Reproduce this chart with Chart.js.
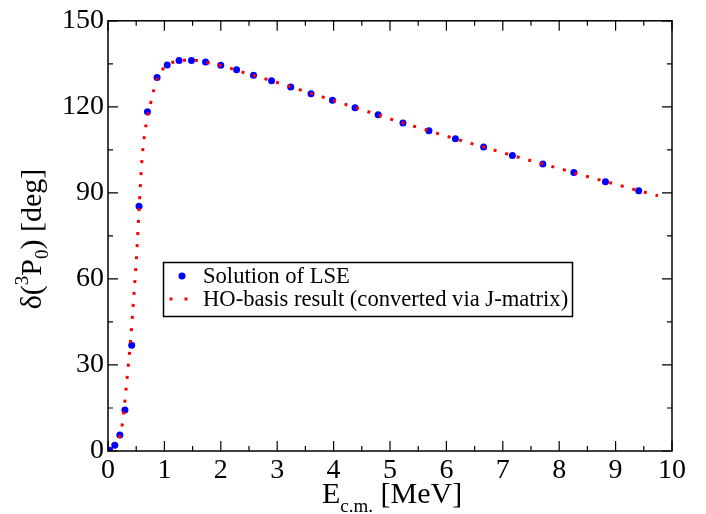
<!DOCTYPE html>
<html>
<head>
<meta charset="utf-8">
<script src="https://cdn.jsdelivr.net/npm/chart.js@4.4.1/dist/chart.umd.min.js"></script>
<style>
  html, body { margin: 0; padding: 0; background: #fff; }
  #wrap { width: 706px; height: 514px; }
</style>
</head>
<body>
<div id="wrap"><canvas id="chart" width="706" height="514"></canvas></div>
<script>
// LSE solution (blue dots)
const lseE = [0.03, 0.12, 0.21, 0.30, 0.42, 0.55, 0.70, 0.87, 1.05, 1.26, 1.48, 1.73, 2.00, 2.28, 2.58,
  2.90, 3.24, 3.60, 3.98, 4.38, 4.79, 5.23, 5.69, 6.16, 6.66, 7.17, 7.71, 8.26, 8.82, 9.41];
const lseDelta = [0.3, 2.0, 5.6, 14.3, 36.9, 85.3, 118.3, 130.2, 134.6, 136.2, 136.2, 135.6, 134.5, 132.9, 131.0,
  129.1, 126.9, 124.6, 122.3, 119.7, 117.2, 114.4, 111.7, 108.9, 106.0, 103.0, 100.1, 97.1, 93.9, 90.7];

// HO-basis result via J-matrix (red dotted line)
const hoE = [0.2, 0.24, 0.28, 0.32, 0.36, 0.4, 0.45, 0.5, 0.55, 0.6, 0.65, 0.7, 0.75, 0.8, 0.85, 0.9, 1.0, 1.1,
  1.25, 1.5, 1.75, 2.0, 2.5, 3.0, 3.5, 4.0, 4.5, 5.0, 5.5, 6.0, 6.5, 7.0, 7.5, 8.0, 8.5, 9.0, 9.5, 9.75];
const hoDelta = [4.5, 7.6, 14.0, 21.5, 30.0, 38.5, 52, 66, 84, 101, 110.5, 116.5, 120.8, 125.0, 128.6, 131.0, 133.8, 135.1,
  136.1, 136.3, 135.5, 134.4, 131.4, 128.5, 125.3, 122.2, 119.0, 115.8, 112.8, 109.8, 106.9, 104.0, 101.2, 98.5, 95.7, 93.0, 90.3, 89.0];

const xTicks = [0, 1, 2, 3, 4, 5, 6, 7, 8, 9, 10];
const yTicks = [0, 30, 60, 90, 120, 150];

const legendLabels = ['Solution of LSE', 'HO-basis result (converted via J-matrix)'];

const serif = "'Liberation Serif', 'DejaVu Serif', serif";

function drawParts(ctx, parts, x, y) {
  // parts: [text, size, baselineShift]
  let cx = x;
  for (const [t, size, dy] of parts) {
    ctx.font = size + 'px ' + serif;
    ctx.fillText(t, cx, y + dy);
    cx += ctx.measureText(t).width;
  }
  return cx - x;
}
function partsWidth(ctx, parts) {
  let w = 0;
  for (const [t, size] of parts) {
    ctx.font = size + 'px ' + serif;
    w += ctx.measureText(t).width;
  }
  return w;
}

const framePlugin = {
  id: 'frame',
  afterDraw(chart) {
    const { ctx, chartArea: a, scales } = chart;
    const xs = scales.x, ys = scales.y;
    ctx.save();
    ctx.strokeStyle = '#000';
    ctx.lineWidth = 1.5;
    ctx.strokeRect(a.left, a.top, a.right - a.left, a.bottom - a.top);

    // inward ticks on all four sides
    ctx.lineWidth = 1.2;
    ctx.beginPath();
    for (let v = 0; v <= 10.001; v += 0.5) {
      const px = xs.getPixelForValue(v);
      const len = Math.abs(v - Math.round(v)) < 0.01 ? 10 : 5;
      ctx.moveTo(px, a.bottom); ctx.lineTo(px, a.bottom - len);
      ctx.moveTo(px, a.top); ctx.lineTo(px, a.top + len);
    }
    for (let v = 0; v <= 150.001; v += 15) {
      const py = ys.getPixelForValue(v);
      const len = v % 30 === 0 ? 10 : 5;
      ctx.moveTo(a.left, py); ctx.lineTo(a.left + len, py);
      ctx.moveTo(a.right, py); ctx.lineTo(a.right - len, py);
    }
    ctx.stroke();

    ctx.fillStyle = '#000';
    ctx.textBaseline = 'alphabetic';
    ctx.textAlign = 'left';

    // x title: E_c.m. [MeV]
    const xParts = [['E', 30, 0], ['c.m.', 19, 9], [' [MeV]', 30, 0]];
    const xw = partsWidth(ctx, xParts);
    drawParts(ctx, xParts, 322, 503);

    // y title: δ(³P₀) [deg]
    const yParts = [['δ(', 30, 0], ['3', 19, -13], ['P', 30, 0], ['0', 19, 7], [') [deg]', 30, 0]];
    const yw = partsWidth(ctx, yParts);
    ctx.save();
    ctx.translate(41, 239);
    ctx.rotate(-Math.PI / 2);
    drawParts(ctx, yParts, -yw / 2, 0);
    ctx.restore();

    // legend
    ctx.lineWidth = 1.5;
    ctx.strokeRect(163.5, 262.5, 409, 54);
    ctx.fillStyle = '#0000ff';
    ctx.beginPath();
    ctx.arc(182, 276, 3.5, 0, Math.PI * 2);
    ctx.fill();
    ctx.fillStyle = '#ff0000';
    ctx.fillRect(169.5, 297.5, 3, 3);
    ctx.fillRect(184.5, 297.5, 3, 3);
    ctx.fillStyle = '#000';
    ctx.font = '22.6px ' + serif;
    ctx.fillText(legendLabels[0], 203, 283);
    ctx.fillText(legendLabels[1], 203, 306);
    ctx.restore();
  }
};

new Chart(document.getElementById('chart'), {
  type: 'scatter',
  data: {
    datasets: [
      {
        label: legendLabels[1],
        type: 'line',
        data: hoE.map((e, i) => ({ x: e, y: hoDelta[i] })),
        borderColor: '#ff0000',
        borderWidth: 3,
        borderDash: [3, 9],
        borderCapStyle: 'butt',
        pointRadius: 0,
        fill: false,
        cubicInterpolationMode: 'monotone'
      },
      {
        label: legendLabels[0],
        data: lseE.map((e, i) => ({ x: e, y: lseDelta[i] })),
        backgroundColor: '#0000ff',
        borderColor: '#0000ff',
        pointRadius: 3.5,
        pointBorderWidth: 0
      }
    ]
  },
  options: {
    responsive: false,
    animation: false,
    layout: { padding: { left: 0, top: 20, right: 34, bottom: 0 } },
    plugins: { legend: { display: false }, tooltip: { enabled: false } },
    scales: {
      x: {
        type: 'linear',
        min: 0,
        max: 10,
        afterBuildTicks: s => { s.ticks = xTicks.map(v => ({ value: v })); },
        afterFit: s => { s.height = 63; },
        grid: { display: false, drawTicks: false },
        border: { display: false },
        ticks: { color: '#000', padding: 3, font: { family: serif, size: 28 }, maxRotation: 0 }
      },
      y: {
        type: 'linear',
        min: 0,
        max: 150,
        afterBuildTicks: s => { s.ticks = yTicks.map(v => ({ value: v })); },
        afterFit: s => { s.width = 108; },
        grid: { display: false, drawTicks: false },
        border: { display: false },
        ticks: { color: '#000', padding: 4, font: { family: serif, size: 28 } }
      }
    }
  },
  plugins: [framePlugin]
});
</script>
</body>
</html>
